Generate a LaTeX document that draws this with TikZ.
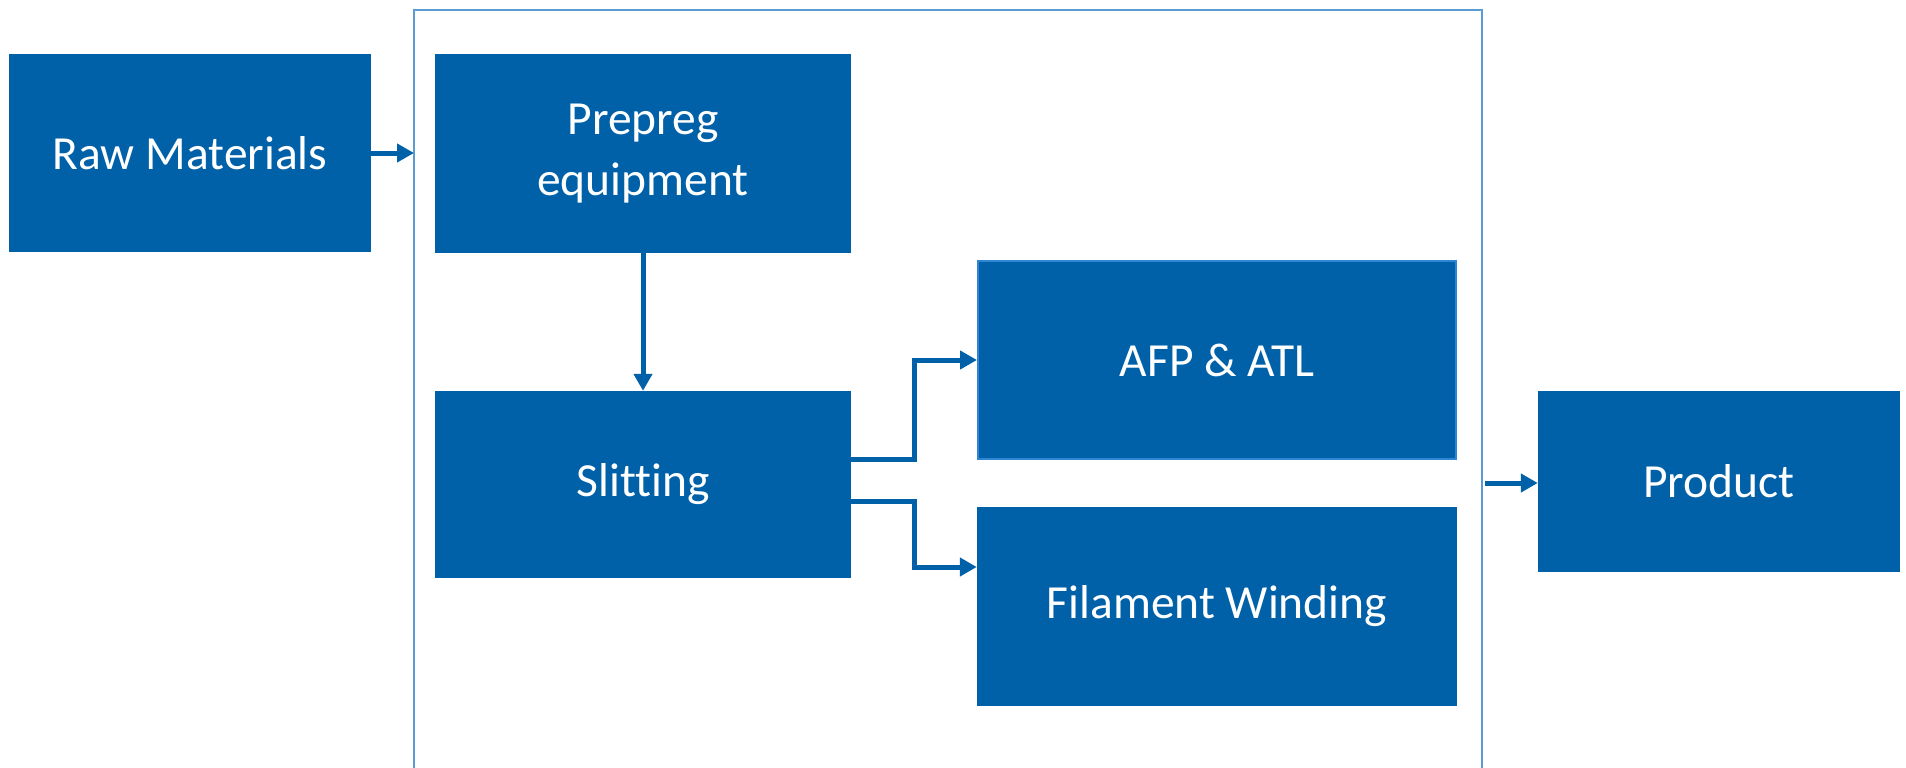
\documentclass[tikz,border=0pt]{standalone}
\usepackage{fontspec}
\setmainfont[Ligatures=NoCommon]{Carlito}
\usetikzlibrary{arrows.meta}
\definecolor{boxblue}{HTML}{0061A8}
\definecolor{edgeblue}{HTML}{2F86D2}
\definecolor{frameblue}{HTML}{5B9BD5}
\tikzset{
  blk/.style={rectangle, fill=boxblue, draw=none, text=white, align=center,
    inner sep=0pt, font=\fontsize{47.5}{61}\selectfont},
  conn/.style={draw=boxblue, line width=5pt, -{Triangle[length=17pt,width=18pt]}},
}
\begin{document}
\begin{tikzpicture}[x=1pt,y=-1pt]
\useasboundingbox (0,0) rectangle (1906,768);
\fill[white] (0,0) rectangle (1906,768);
% frame
\draw[frameblue, line width=1.5pt] (414,770) -- (414,10) -- (1482,10) -- (1482,770);
\coordinate (frameL) at (414,153);
\coordinate (frameR) at (1485,483);
% boxes
\node[blk, minimum width=362pt, minimum height=198pt] (raw) at (190,153) {Raw Materials};
\node[blk, minimum width=416pt, minimum height=199pt] (prepreg) at (643,153.5) {Prepreg\\equipment};
\node[blk, minimum width=416pt, minimum height=187pt] (slit) at (643,484.5) {Slitting};
\node[blk, draw=edgeblue, line width=2pt, minimum width=478pt, minimum height=198pt] (afp) at (1217,360) {AFP \& ATL};
\node[blk, minimum width=480pt, minimum height=199pt] (fw) at (1217,606.5) {Filament Winding};
\node[blk, minimum width=362pt, minimum height=181pt] (prod) at (1719,481.5) {Product};
% connectors
\draw[conn] (raw.east) -- (frameL);
\draw[conn] (prepreg.south) -- (slit.north);
\draw[conn] (slit.east |- 0,459) -| (914,360) -- (afp.west);
\draw[conn] (slit.east |- 0,501) -| (914,567) -- (fw.west |- 0,567);
\draw[conn] (frameR) -- (prod.west |- frameR);
\end{tikzpicture}
\end{document}
